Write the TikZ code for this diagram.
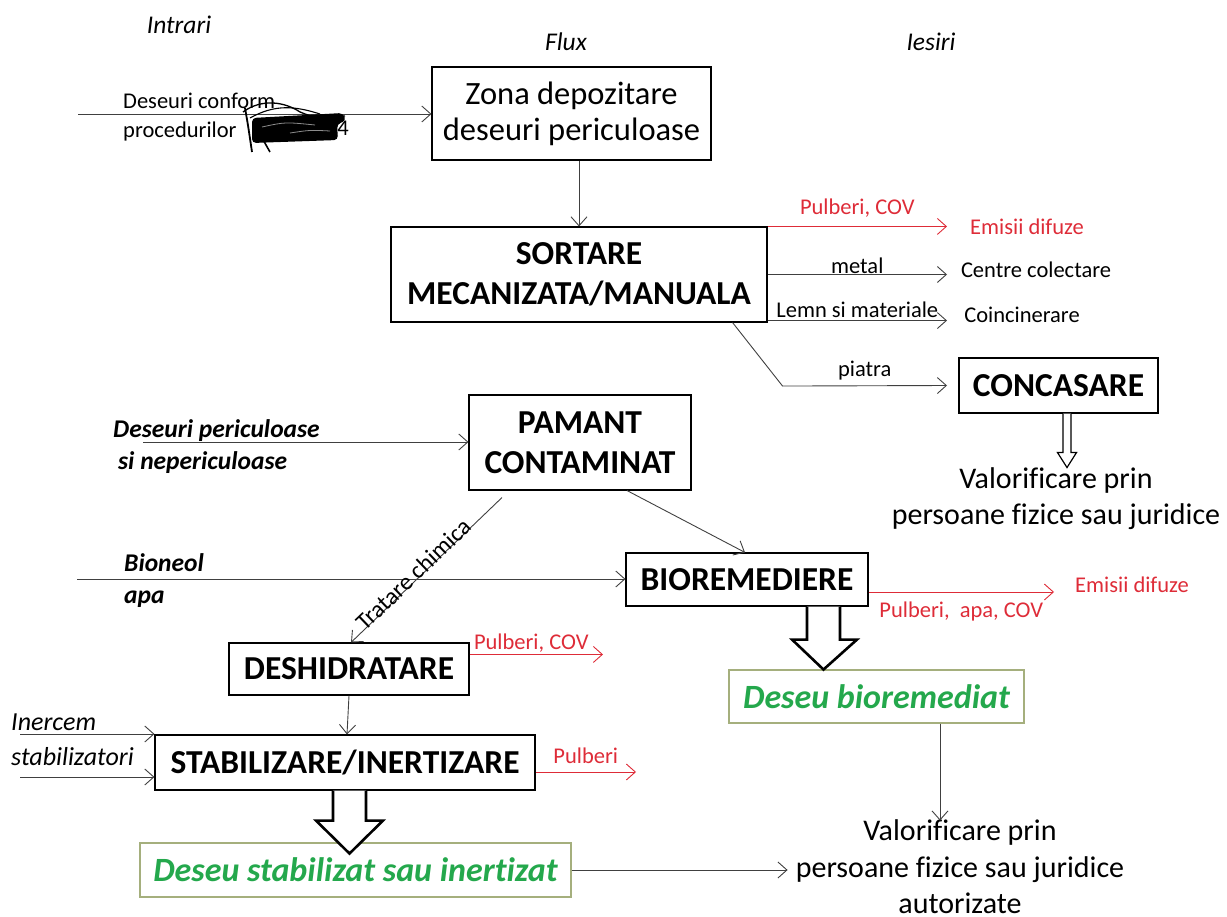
\documentclass[tikz,border=0pt]{standalone}
\usepackage{fontspec}
\setmainfont{Carlito}[Ligatures=NoCommon]
\usetikzlibrary{arrows.meta}
\definecolor{emired}{RGB}{222,44,56}
\definecolor{resgreen}{RGB}{36,168,76}
\definecolor{resframe}{RGB}{165,175,125}

\begin{document}
\begin{tikzpicture}[x=1pt, y=-1pt,
  flow/.style={-{Straight Barb[length=9pt,width=16pt]}, line width=0.9pt, draw=black!75},
  emis/.style={flow, draw=emired},
  proc/.style={draw, line width=1.1pt, align=center, inner sep=0pt, font=\fontsize{33.5}{40}\selectfont\bfseries},
  store/.style={proc, font=\fontsize{32.5}{36}\selectfont},
  result/.style={draw=resframe, line width=1.1pt, inner sep=0pt, text=resgreen, font=\fontsize{34}{38}\selectfont\bfseries\itshape},
  lbl/.style={inner sep=0pt, font=\fontsize{22.5}{29}\selectfont},
  emitxt/.style={lbl, text=emired},
  colhead/.style={inner sep=0pt, font=\fontsize{25.5}{28}\selectfont\itshape},
  feed/.style={inner sep=0pt, anchor=west, align=left, font=\fontsize{25.5}{32}\selectfont\bfseries\itshape},
  addit/.style={inner sep=0pt, anchor=west, align=left, font=\fontsize{26}{35}\selectfont\itshape},
  valor/.style={inner sep=0pt, align=center, font=\fontsize{30}{36.5}\selectfont},
  hollow/.style={draw=black, line width=2.6pt, fill=white}
]
\useasboundingbox (0,0) rectangle (1227,917);

% column headings
\node[colhead] (hin)  at (179,25) {Intrari};
\node[colhead] (hfl)  at (566,42) {Flux};
\node[colhead] (hout) at (931,42) {Iesiri};

% flow
\node[store, minimum width=279pt, minimum height=93pt] (zona) at (571.5,113.5) {Zona depozitare\\deseuri periculoase};
\node[proc, minimum width=376pt, minimum height=95pt] (sort) at (579,274.5) {SORTARE\\MECANIZATA/MANUALA};
\node[proc, minimum width=199pt, minimum height=55pt] (conc) at (1058.5,385.5) {CONCASARE};
\node[proc, minimum width=222pt, minimum height=95pt] (pam) at (580,442.5) {PAMANT\\CONTAMINAT};
\node[proc, minimum width=242pt, minimum height=53pt] (biorem) at (747,579.5) {BIOREMEDIERE};
\node[proc, minimum width=240pt, minimum height=52pt] (desh) at (349,669) {DESHIDRATARE};
\node[proc, minimum width=380pt, minimum height=55pt] (stab) at (345,762.5) {STABILIZARE/INERTIZARE};
\node[result, minimum width=295pt, minimum height=53pt] (biores) at (876.5,696.5) {Deseu bioremediat};
\node[result, minimum width=431pt, minimum height=54pt] (stabres) at (355.5,870) {Deseu stabilizat sau inertizat};

% outputs
\node[emitxt] (em1) at (1027,227) {Emisii difuze};
\node[lbl] (cc) at (1036,270) {Centre colectare};
\node[lbl] (coinc) at (1022,315) {Coincinerare};
\node[emitxt] (em2) at (1132,585) {Emisii difuze};
\node[valor] (val1) at (1056,498.5) {Valorificare prin\\persoane fizice sau juridice};
\node[valor] (val2) at (960,867) {Valorificare prin\\persoane fizice sau juridice\\autorizate};

% inputs
\node[lbl, anchor=west, align=left] (lblZ) at (123,117.5) {Deseuri conform\\procedurilor};
\node[feed] (lblP) at (113,446.5) {Deseuri periculoase\\\hspace*{5pt}si nepericuloase};
\node[feed] (lblB) at (124,581) {Bioneol\\apa};
\node[addit] (lblS) at (11,739.5) {Inercem\\stabilizatori};
\coordinate (inZ) at (78,114);
\coordinate (inP) at (143,442);
\coordinate (inB) at (77,579);
\coordinate (inS1) at (20,734);
\coordinate (inS2) at (20,777);
\draw[flow] (inZ) -- (inZ -| zona.west);
\draw[flow] (inP) -- (inP -| pam.west);
\draw[flow] (inB) -- (inB -| biorem.west);
\draw[flow] (inS1) -- (inS1 -| stab.west);
\draw[flow] (inS2) -- (inS2 -| stab.west);

% scribble over the reference number
\node[lbl] (lbl4) at (343,128) {4};
\fill[black, rounded corners=4pt] (252,118) -- (343,113) -- (346,121) -- (337,124) -- (338,140) -- (252,143) -- cycle;
\draw[black!45, line width=0.8pt] (262,127) .. controls (285,122) .. (315,125);
\draw[black!45, line width=0.8pt] (290,133) .. controls (310,130) .. (330,131);
\draw[line width=1.8pt] (245,108) .. controls (248,125) .. (252,152);
\draw[line width=1.6pt] (256,124) .. controls (262,138) .. (270,152);
\draw[line width=1.3pt] (243,112) .. controls (262,98) and (285,102) .. (300,112) .. controls (315,118) .. (345,116);
\draw[line width=1.1pt] (250,118) .. controls (275,104) and (295,106) .. (320,114);

% connectors
\coordinate (outR) at (947,0);
\draw[flow] (zona.south -| sort.north) -- (sort.north);
\draw[emis] (sort.north east) -- node[emitxt, above=9pt] {Pulberi, COV} (sort.north east -| outR);
\draw[flow] (sort.east) -- node[lbl, above] {metal} (sort.east -| outR);
\draw[flow] ([yshift=2pt]sort.south east) -- node[lbl, above=2pt] {Lemn si materiale} ([yshift=2pt]sort.south east -| outR);
\draw[flow] ([xshift=-35pt]sort.south east) -- ++(50,63.5) -- node[lbl, above=5pt] {piatra} (conc.west -| outR);
\draw[line width=1.2pt, fill=white, line join=miter] ([xshift=4.5pt]conc.south) -- ++(0,39) -- ++(-5.5,0) -- ++(9.5,15) -- ++(9.5,-15) -- ++(-5.5,0) -- ++(0,-39);

\draw[flow] ([xshift=-78pt, yshift=-7pt]pam.south) -- node[lbl, font=\fontsize{24}{28}\selectfont, sloped, pos=0.56, above=-3pt] {Tratare chimica} ([xshift=2pt]desh.north);
\draw[flow] ([xshift=47pt]pam.south) -- ([xshift=-2pt]biorem.north);
\draw[flow] (desh.south) -- ([xshift=2pt]stab.north);

\coordinate (outD) at (603,0);
\coordinate (outS) at (636,0);
\coordinate (outB) at (1054,0);
\draw[emis] ([yshift=-12pt]desh.north east) -- node[emitxt, pos=0, anchor=south west, xshift=4pt, yshift=2pt] {Pulberi, COV} ([yshift=-12pt]desh.north east -| outD);
\draw[emis] ([yshift=-9.5pt]stab.east) -- node[emitxt, above=8pt] {Pulberi} ([yshift=-9.5pt]stab.east -| outS);
\draw[emis] ([yshift=-12.5pt]biorem.east) -- node[emitxt, below=9pt] {Pulberi,\ \ apa, COV} ([yshift=-12.5pt]biorem.east -| outB);

% hollow arrows
\draw[hollow] ([xshift=60pt]biorem.south) -- ++(0,33) -- ++(-15,0) -- ++(31.5,30) -- ++(33.5,-30) -- ++(-17,0) -- ++(0,-33);
\draw[hollow] ([xshift=-12pt]stab.south) -- ++(0,30) -- ++(-17,0) -- ++(33.5,33) -- ++(33.5,-33) -- ++(-17,0) -- ++(0,-30);

\draw[flow] ([xshift=63.5pt]biores.south) -- ++(0,97);
\draw[flow, shorten >=8pt] (stabres.east) -- (stabres.east -| val2.west);
\end{tikzpicture}
\end{document}
